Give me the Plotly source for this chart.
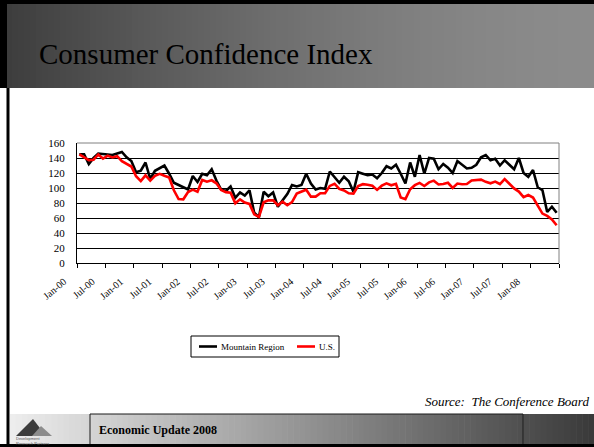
import plotly.graph_objects as go

# ---------------- data ----------------
month_names = ["Jan", "Feb", "Mar", "Apr", "May", "Jun",
               "Jul", "Aug", "Sep", "Oct", "Nov", "Dec"]
months = [f"{m}-{y:02d}" for y in range(0, 9) for m in month_names][:102]

mountain = [
    145, 145, 132, 140, 146, 145, 144, 144, 146, 148, 141, 136,   # 2000
    121, 123, 134, 112, 123, 127, 130, 119, 107, 104, 101, 98,    # 2001
    116, 108, 119, 117, 125, 110, 98, 96, 102, 87, 94, 90,        # 2002
    97, 67, 61, 95, 89, 94, 75, 84, 92, 104, 102, 104,            # 2003
    119, 106, 98, 100, 99, 122, 115, 107, 115, 109, 95, 121,      # 2004
    119, 117, 118, 113, 120, 129, 126, 131, 119, 106, 134, 115,   # 2005
    144, 119, 140, 139, 125, 132, 127, 120, 136, 131, 126, 127,   # 2006
    131, 141, 144, 137, 139, 130, 137, 131, 125, 140, 120, 115,   # 2007
    124, 101, 97, 68, 75, 67,                                     # 2008
]

us = [
    144.7, 140.8, 137.1, 137.7, 144.7, 139.2, 143.0, 140.8, 142.5, 135.8, 132.6, 128.6,
    115.7, 109.2, 116.9, 109.9, 116.1, 118.9, 116.3, 114.0, 97.0, 85.3, 84.9, 94.6,
    97.8, 95.0, 110.7, 108.5, 110.3, 106.3, 97.4, 94.5, 93.7, 79.6, 84.9, 80.7,
    78.8, 64.8, 61.4, 81.0, 83.6, 83.5, 77.0, 81.7, 77.0, 81.1, 92.5, 94.8,
    97.7, 88.5, 88.5, 93.0, 93.1, 102.8, 105.7, 98.7, 96.7, 92.9, 92.6, 102.7,
    105.1, 104.4, 103.0, 97.5, 103.1, 106.2, 103.6, 105.5, 87.5, 85.2, 98.3, 103.8,
    106.8, 102.7, 107.5, 109.8, 104.7, 105.4, 107.0, 100.2, 105.9, 105.1, 105.3, 110.0,
    110.2, 111.2, 108.2, 106.3, 108.5, 105.3, 111.9, 105.6, 99.5, 95.2, 87.8, 90.6,
    87.3, 76.4, 65.9, 62.8, 58.1, 50.4,
]

tick_labels = ["Jan-00", "Jul-00", "Jan-01", "Jul-01", "Jan-02", "Jul-02",
               "Jan-03", "Jul-03", "Jan-04", "Jul-04", "Jan-05", "Jul-05",
               "Jan-06", "Jul-06", "Jan-07", "Jul-07", "Jan-08"]
y_ticks = [0, 20, 40, 60, 80, 100, 120, 140, 160]

series_names = ["Mountain Region", "U.S."]
series_colors = ["#000000", "#ff0000"]

# ---------------- layout helpers ----------------
W, H = 594, 447
L, R, T, B = 77, 35, 143, 184
PW = W - L - R
PH = H - T - B
BASE = H - B


def fx(x):
    return (x - L) / PW


def fy(y):
    return (BASE - y) / PH


SERIF = "Liberation Serif, Times New Roman, serif"

x_idx = list(range(len(months)))

fig = go.Figure()
for name, vals, col in zip(series_names, [mountain, us], series_colors):
    fig.add_trace(go.Scatter(
        x=x_idx, y=vals, mode="lines", name=name,
        line=dict(color=col, width=2.6),
        text=months, hovertemplate="%{text}: %{y}<extra>" + name + "</extra>",
        showlegend=False,
    ))

shapes = []
annotations = []

# title band gradient
n = 99
for k in range(n):
    x0 = W * k / n
    x1 = W * (k + 1) / n + 0.6
    t = (k + 0.5) / n
    c = int(60 + 80 * (1 - (1 - t) ** 1.6))
    shapes.append(dict(type="rect", xref="paper", yref="paper",
                       x0=fx(x0), x1=fx(x1), y0=fy(88), y1=fy(0),
                       fillcolor=f"rgb({c},{c},{c})", line=dict(width=0), layer="below"))
shapes.append(dict(type="rect", xref="paper", yref="paper",
                   x0=fx(0), x1=fx(W), y0=fy(4), y1=fy(0),
                   fillcolor="black", line=dict(width=0), layer="below"))
shapes.append(dict(type="rect", xref="paper", yref="paper",
                   x0=fx(0), x1=fx(7), y0=fy(88), y1=fy(0),
                   fillcolor="black", line=dict(width=0), layer="below"))
# left frame line
shapes.append(dict(type="rect", xref="paper", yref="paper",
                   x0=fx(6.5), x1=fx(9.5), y0=fy(H), y1=fy(88),
                   fillcolor="black", line=dict(width=0), layer="below"))

# footer gradient
fx0 = 10
for k in range(n):
    x0 = fx0 + (W - fx0) * k / n
    x1 = fx0 + (W - fx0) * (k + 1) / n + 0.6
    t = (k + 0.5) / n
    c = int(238 - 180 * t)
    shapes.append(dict(type="rect", xref="paper", yref="paper",
                       x0=fx(x0), x1=fx(x1), y0=fy(444), y1=fy(414),
                       fillcolor=f"rgb({c},{c},{c})", line=dict(width=0), layer="below"))
shapes.append(dict(type="rect", xref="paper", yref="paper",
                   x0=fx(90), x1=fx(523), y0=fy(446), y1=fy(414),
                   fillcolor="rgba(0,0,0,0)", line=dict(color="#1a1a1a", width=1), layer="below"))
shapes.append(dict(type="rect", xref="paper", yref="paper",
                   x0=fx(0), x1=fx(W), y0=fy(H), y1=fy(444),
                   fillcolor="black", line=dict(width=0), layer="below"))


# logo mountains
def path(pts):
    return "M " + " L ".join(f"{fx(a):.5f},{fy(b):.5f}" for a, b in pts) + " Z"


shapes.append(dict(type="path", xref="paper", yref="paper",
                   path=path([(16, 436), (33, 419), (46, 436)]),
                   fillcolor="#3c3c3c", line=dict(width=0), layer="above"))
shapes.append(dict(type="path", xref="paper", yref="paper",
                   path=path([(32, 436), (41, 426), (52, 436)]),
                   fillcolor="#8c8c8c", line=dict(width=0), layer="above"))
annotations.append(dict(xref="paper", yref="paper", x=fx(14), y=fy(440.5),
                        xanchor="left", yanchor="middle", showarrow=False, align="left",
                        text="Development<br>Research Partners",
                        font=dict(family="Liberation Sans, Arial", size=4, color="#555")))

# plot area top / right border (gray)
shapes.append(dict(type="line", xref="paper", yref="paper", x0=0, x1=1, y0=1, y1=1,
                   line=dict(color="#808080", width=1), layer="above"))
shapes.append(dict(type="line", xref="paper", yref="paper", x0=1, x1=1, y0=0, y1=1,
                   line=dict(color="#808080", width=1), layer="above"))

# legend (manual)
shapes.append(dict(type="rect", xref="paper", yref="paper",
                   x0=fx(191), x1=fx(339), y0=fy(357), y1=fy(336),
                   fillcolor="white", line=dict(color="black", width=1), layer="above"))
leg_items = [(199, 217, 219), (297, 315, 316.5)]
for (lx0, lx1, tx), name, col in zip(leg_items, series_names, series_colors):
    shapes.append(dict(type="line", xref="paper", yref="paper",
                       x0=fx(lx0), x1=fx(lx1), y0=fy(346.5), y1=fy(346.5),
                       line=dict(color=col, width=2.6), layer="above"))
    annotations.append(dict(xref="paper", yref="paper", x=fx(tx), y=fy(346.5),
                            xanchor="left", yanchor="middle", showarrow=False,
                            text=name, font=dict(family=SERIF, size=9, color="black")))

# title
annotations.append(dict(xref="paper", yref="paper", x=fx(37), y=fy(54),
                        xanchor="left", yanchor="middle", showarrow=False,
                        text="Consumer Confidence Index",
                        font=dict(family=SERIF, size=29, color="black")))
# source
annotations.append(dict(xref="paper", yref="paper", x=fx(591), y=fy(401),
                        xanchor="right", yanchor="middle", showarrow=False,
                        text="<i>Source:\u00a0 The Conference Board</i>",
                        font=dict(family=SERIF, size=13, color="black")))
# footer text
annotations.append(dict(xref="paper", yref="paper", x=fx(97), y=fy(430),
                        xanchor="left", yanchor="middle", showarrow=False,
                        text="<b>Economic Update 2008</b>",
                        font=dict(family=SERIF, size=12, color="black")))

tickvals = [-0.5 + 6 * k for k in range(18)]
ticktext = tick_labels + [""]

fig.update_layout(
    width=W, height=H,
    margin=dict(l=L, r=R, t=T, b=B, pad=0),
    paper_bgcolor="white", plot_bgcolor="white",
    shapes=shapes, annotations=annotations,
    showlegend=False,
    xaxis=dict(
        range=[-0.5, len(months) - 0.5],
        tickmode="array", tickvals=tickvals, ticktext=ticktext,
        tickangle=-40, ticks="outside", ticklen=4, tickcolor="black", tickwidth=1,
        ticklabelshift=-13, ticklabelstandoff=4,
        showline=True, linecolor="black", linewidth=1,
        showgrid=False, zeroline=False,
        tickfont=dict(family=SERIF, size=10, color="black"),
    ),
    yaxis=dict(
        range=[0, 160], tickmode="array", tickvals=y_ticks,
        ticks="", ticklabelstandoff=9,
        showline=True, linecolor="black", linewidth=1,
        showgrid=True, gridcolor="black", gridwidth=1,
        zeroline=False,
        tickfont=dict(family=SERIF, size=11, color="black"),
    ),
)

fig.write_html("out.html", config={"displayModeBar": False},
               post_script="document.body.style.margin='0';document.body.style.overflow='hidden';")
